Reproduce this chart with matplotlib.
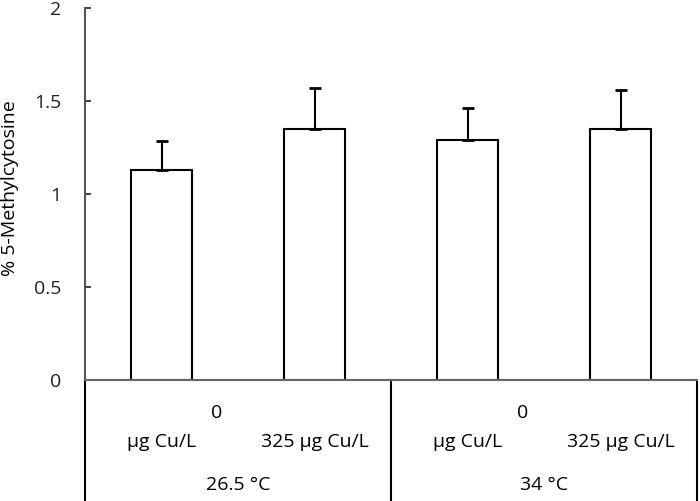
import numpy as np
import matplotlib
matplotlib.use('Agg')
import matplotlib.pyplot as plt

plt.rcParams['font.family'] = ['Open Sans', 'DejaVu Sans']

# data
conc_labels = ['µg Cu/L', '325 µg Cu/L', 'µg Cu/L', '325 µg Cu/L']
temp_labels = ['26.5 °C', '34 °C']
means = [1.13, 1.35, 1.29, 1.35]
errs = [0.155, 0.22, 0.17, 0.21]

fs = 14

fig = plt.figure(figsize=(7.0, 5.01), dpi=100)
ax = fig.add_axes([85 / 700, (501 - 380) / 501, 612 / 700, 372 / 501])

x = np.arange(len(means))
ax.bar(x, means, width=0.4, color='white', edgecolor='black', linewidth=1.5,
       yerr=[np.zeros(len(errs)), errs],
       error_kw=dict(ecolor='black', elinewidth=1.5, capsize=4.5, capthick=2))

ax.set_xlim(-0.5, 3.5)
ax.set_ylim(0, 2)
ax.set_yticks([0, 0.5, 1, 1.5, 2])
ax.set_yticklabels(['0', '0.5', '1', '1.5', '2'])
ax.tick_params(axis='y', direction='in', length=4, width=1.2, pad=17,
               labelsize=fs, colors='#222222')
ax.set_xticks([])
for s in ['top', 'right']:
    ax.spines[s].set_visible(False)
ax.spines['left'].set_color('#555555')
ax.spines['left'].set_linewidth(1.5)
ax.spines['bottom'].set_color('#666666')
ax.spines['bottom'].set_linewidth(1.5)
ax.set_ylabel('% 5-Methylcytosine', fontsize=fs)
ax.yaxis.set_label_coords(-0.108, 0.515)

# category table below the axis
trans = ax.get_xaxis_transform()
for xv in [-0.5, 1.5, 3.5]:
    ax.plot([xv, xv], [0, -0.4], transform=trans, color='black', lw=1.5,
            clip_on=False)

for i, lab in enumerate(conc_labels):
    ax.text(i, -0.168, lab, transform=trans, ha='center', va='center',
            fontsize=fs)
for g in range(2):
    ax.text(2 * g + 0.36, -0.09, '0', transform=trans, ha='center',
            va='center', fontsize=fs)
    ax.text(2 * g + 0.5, -0.283, temp_labels[g], transform=trans,
            ha='center', va='center', fontsize=fs)

fig.savefig('out.png', dpi=100)
